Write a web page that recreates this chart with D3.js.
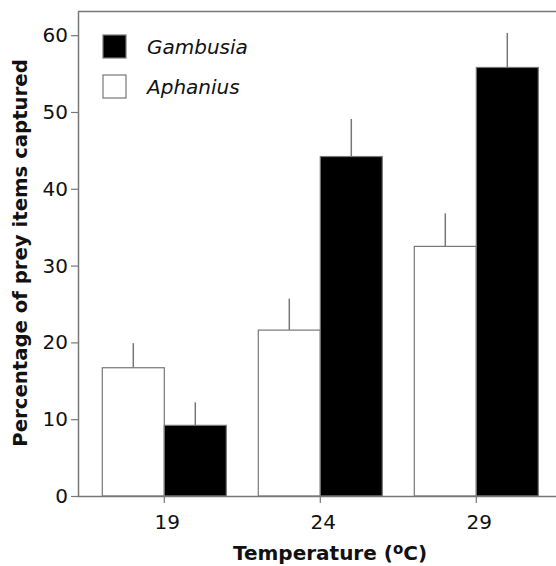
<!DOCTYPE html>
<html>
<head>
<meta charset="utf-8">
<script src="https://cdn.jsdelivr.net/npm/d3@7"></script>
<style>
  body { margin: 0; background: #fff; }
  svg { display: block; font-family: "DejaVu Sans", Verdana, sans-serif; }
</style>
</head>
<body>
<svg id="chart" width="556" height="566"></svg>
<script>
var temperatures = ["19", "24", "29"];
var series = ["Aphanius", "Gambusia"];
var aphanius = [16.7, 21.6, 32.5];
var aphaniusErr = [3.2, 4.1, 4.3];
var gambusia = [9.2, 44.2, 55.8];
var gambusiaErr = [3.0, 4.9, 4.5];
var yTicks = [0, 10, 20, 30, 40, 50, 60];

var fills = { Aphanius: "#fff", Gambusia: "#000" };
var lineColor = "#777";

var margin = {top: 11, left: 78};
var plotRight = 563, plotBottom = 496;

var svg = d3.select("#chart");

var x = d3.scaleBand().domain(temperatures).range([86.3, 554.3]);
var xs = d3.scaleBand().domain(series).range([-62, 62]);
var y = d3.scaleLinear().domain([0, 63.15]).range([plotBottom, margin.top]);

var rows = temperatures.map(function(t, i) {
  return [
    {temp: t, name: "Aphanius", value: aphanius[i], err: aphaniusErr[i]},
    {temp: t, name: "Gambusia", value: gambusia[i], err: gambusiaErr[i]}
  ];
}).flat();

function cx(d) { return x(d.temp) + x.bandwidth() / 2; }

// frame top line
svg.append("line")
  .attr("x1", margin.left).attr("x2", plotRight)
  .attr("y1", margin.top + 0.5).attr("y2", margin.top + 0.5)
  .attr("stroke", lineColor).attr("stroke-width", 1.5);

// error bars (upward only)
svg.append("g").selectAll("line")
  .data(rows).enter().append("line")
  .attr("x1", function(d) { return cx(d) + xs(d.name) + xs.bandwidth() / 2; })
  .attr("x2", function(d) { return cx(d) + xs(d.name) + xs.bandwidth() / 2; })
  .attr("y1", function(d) { return y(d.value); })
  .attr("y2", function(d) { return y(d.value + d.err); })
  .attr("stroke", lineColor).attr("stroke-width", 1.5);

// bars
svg.append("g").selectAll("rect")
  .data(rows).enter().append("rect")
  .attr("x", function(d) { return cx(d) + xs(d.name); })
  .attr("y", function(d) { return y(d.value); })
  .attr("width", xs.bandwidth())
  .attr("height", function(d) { return plotBottom - y(d.value); })
  .attr("fill", function(d) { return fills[d.name]; })
  .attr("stroke", lineColor).attr("stroke-width", 1.2);

// y axis
var yAxis = svg.append("g")
  .attr("transform", "translate(" + margin.left + ",0)")
  .call(d3.axisLeft(y).tickValues(yTicks).tickSize(7).tickPadding(3).tickSizeOuter(0));
yAxis.select(".domain").attr("stroke", lineColor).attr("stroke-width", 1.5);
yAxis.selectAll(".tick line").attr("stroke", lineColor).attr("stroke-width", 1.2);
yAxis.selectAll("text").attr("font-size", 20).attr("fill", "#111").attr("font-family", "DejaVu Sans");

// x axis
var xAxis = svg.append("g")
  .attr("transform", "translate(0," + plotBottom + ")")
  .call(d3.axisBottom(x).tickSize(7).tickPadding(12).tickSizeOuter(0));
xAxis.select(".domain").attr("d", "M" + margin.left + ",0.5H" + plotRight)
  .attr("stroke", lineColor).attr("stroke-width", 1.5);
xAxis.selectAll(".tick line").attr("stroke", lineColor).attr("stroke-width", 1.2);
xAxis.selectAll("text").attr("font-size", 20).attr("fill", "#111").attr("dx", 3)
  .attr("dy", "0.68em").attr("font-family", "DejaVu Sans");

// axis titles
svg.append("text")
  .attr("transform", "translate(27,253) rotate(-90)")
  .attr("text-anchor", "middle")
  .attr("font-size", 19.7).attr("font-weight", "bold").attr("fill", "#111")
  .text("Percentage of prey items captured");

var xTitle = svg.append("text")
  .attr("x", 330).attr("y", 559.5)
  .attr("text-anchor", "middle")
  .attr("font-size", 20).attr("font-weight", "bold").attr("fill", "#111");
xTitle.append("tspan").text("Temperature (");
xTitle.append("tspan").attr("font-size", 15).attr("dy", -6).text("o");
xTitle.append("tspan").attr("dy", 6).text("C)");

// legend
var legend = svg.append("g").selectAll("g")
  .data(["Gambusia", "Aphanius"]).enter().append("g")
  .attr("transform", function(d, i) { return "translate(103," + (35 + i * 40) + ")"; });
legend.append("rect")
  .attr("width", 23).attr("height", 23)
  .attr("fill", function(d) { return fills[d]; })
  .attr("stroke", lineColor).attr("stroke-width", 1.2);
legend.append("text")
  .attr("x", 44).attr("y", 18.5)
  .attr("font-size", 20).attr("font-style", "italic").attr("fill", "#111")
  .text(function(d) { return d; });
</script>
</body>
</html>
